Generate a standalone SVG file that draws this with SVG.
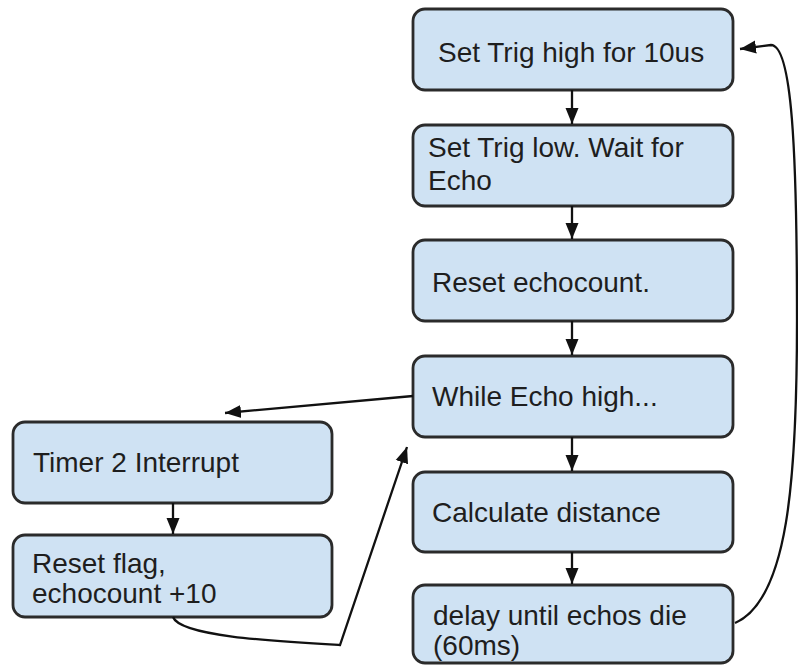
<svg xmlns="http://www.w3.org/2000/svg" width="798" height="666" viewBox="0 0 798 666">
  <style>
    .box { fill: #cfe2f3; stroke: #2b2b2b; stroke-width: 2.8; }
    .lbl { font-family: "Liberation Sans", Arial, sans-serif; font-size: 28px; fill: #1e1e1e; }
    .wire { fill: none; stroke: #111; stroke-width: 2.3; }
  </style>
  <defs>
    <marker id="arrow" markerUnits="userSpaceOnUse" markerWidth="18" markerHeight="16" refX="16" refY="8" orient="auto">
      <path d="M0,1.5 L16,8 L0,14.5 Z" fill="#111"/>
    </marker>
  </defs>

  <rect width="798" height="666" fill="#ffffff"/>

  <!-- main loop -->
  <g id="trig-high">
    <rect class="box" x="413" y="9" width="320" height="81" rx="12"/>
    <text class="lbl" x="438" y="62">Set Trig high for 10us</text>
  </g>
  <g id="trig-low">
    <rect class="box" x="413" y="125" width="320" height="81" rx="12"/>
    <text class="lbl" x="428" y="157">Set Trig low. Wait for</text>
    <text class="lbl" x="428" y="190">Echo</text>
  </g>
  <g id="reset-count">
    <rect class="box" x="413" y="240" width="320" height="81" rx="12"/>
    <text class="lbl" x="432" y="292">Reset echocount.</text>
  </g>
  <g id="while-high">
    <rect class="box" x="413" y="356" width="320" height="81" rx="12"/>
    <text class="lbl" x="432" y="406">While Echo high...</text>
  </g>
  <g id="calc-distance">
    <rect class="box" x="413" y="472" width="320" height="80" rx="12"/>
    <text class="lbl" x="432" y="522">Calculate distance</text>
  </g>
  <g id="delay">
    <rect class="box" x="413" y="585" width="320" height="78" rx="12"/>
    <text class="lbl" x="433" y="625">delay until echos die</text>
    <text class="lbl" x="433" y="655">(60ms)</text>
  </g>

  <!-- interrupt handler -->
  <g id="timer-isr">
    <rect class="box" x="13" y="422" width="319" height="81" rx="12"/>
    <text class="lbl" x="33" y="472">Timer 2 Interrupt</text>
  </g>
  <g id="reset-flag">
    <rect class="box" x="13" y="535" width="319" height="82" rx="12"/>
    <text class="lbl" x="32" y="573">Reset flag,</text>
    <text class="lbl" x="32" y="603">echocount +10</text>
  </g>

  <g id="connectors">
    <line class="wire" x1="572" y1="90" x2="572" y2="124" marker-end="url(#arrow)"/>
    <line class="wire" x1="572" y1="206" x2="572" y2="239" marker-end="url(#arrow)"/>
    <line class="wire" x1="572" y1="321" x2="572" y2="355" marker-end="url(#arrow)"/>
    <line class="wire" x1="572" y1="437" x2="572" y2="471" marker-end="url(#arrow)"/>
    <line class="wire" x1="572" y1="552" x2="572" y2="584" marker-end="url(#arrow)"/>
    <line class="wire" x1="173" y1="503" x2="173" y2="534" marker-end="url(#arrow)"/>
    <line class="wire" x1="413" y1="396" x2="225" y2="413" marker-end="url(#arrow)"/>
    <path class="wire" d="M173,617 C180,636 270,641 340,645 L407,447" marker-end="url(#arrow)"/>
    <path class="wire" d="M735,623 C788,600 797,480 797,320 C797,150 792,45 771,45 L740,49" marker-end="url(#arrow)"/>
  </g>
</svg>
